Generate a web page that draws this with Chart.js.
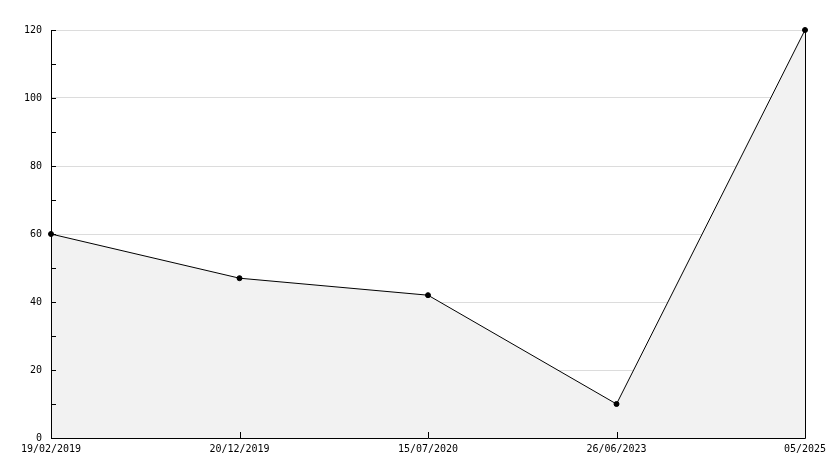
<!DOCTYPE html>
<html>
<head>
<meta charset="utf-8">
<script src="https://cdn.jsdelivr.net/npm/chart.js@4"></script>
<style>
    html, body { margin: 0; padding: 0; background: #ffffff; }
    #wrap { width: 834px; height: 468px; }
</style>
</head>
<body>
<div id="wrap"><canvas id="mainChart" width="834" height="468"></canvas></div>
<script>
const dateLabels = ['19/02/2019', '20/12/2019', '15/07/2020', '26/06/2023', '05/2025'];
const values = [60, 47, 42, 10, 120];
const yMin = 0;
const yMax = 120;

// short inward ticks + frame lines drawn on top of the fill
const frameTicks = {
    id: 'frameTicks',
    afterDatasetsDraw(chart) {
        const ctx = chart.ctx;
        const area = chart.chartArea;
        const xs = chart.scales.x;
        const ys = chart.scales.y;
        ctx.save();
        ctx.strokeStyle = '#000000';
        ctx.lineWidth = 1;
        ctx.beginPath();
        ys.ticks.forEach(t => {
            const y = Math.round(ys.getPixelForValue(t.value)) + 0.5;
            ctx.moveTo(area.left, y);
            ctx.lineTo(area.left + 5, y);
        });
        xs.ticks.forEach((t, i) => {
            const x = Math.round(xs.getPixelForTick(i)) + 0.5;
            ctx.moveTo(x, area.bottom);
            ctx.lineTo(x, area.bottom - 6);
        });
        const l = Math.round(area.left) + 0.5;
        const r = Math.round(area.right) + 0.5;
        const b = Math.round(area.bottom) + 0.5;
        const t = Math.round(area.top) + 0.5;
        ctx.moveTo(l, t);
        ctx.lineTo(l, b);
        ctx.lineTo(r, b);
        ctx.lineTo(r, t);
        ctx.stroke();
        ctx.restore();
    }
};

document.addEventListener('DOMContentLoaded', function () {
    const ctxMain = document.getElementById('mainChart').getContext('2d');

    const mainChart = new Chart(ctxMain, {
        type: 'line',
        data: {
            labels: dateLabels,
            datasets: [{
                data: values,
                borderColor: '#000000',
                backgroundColor: '#f2f2f2',
                borderWidth: 1,
                fill: 'origin',
                tension: 0,
                pointRadius: 2.5,
                pointHoverRadius: 2.5,
                pointBackgroundColor: '#000000',
                pointBorderColor: '#000000',
                pointBorderWidth: 1,
                clip: false
            }]
        },
        options: {
            responsive: false,
            animation: false,
            events: [],
            layout: {
                padding: { top: 30, right: 29, left: 0, bottom: 0 }
            },
            plugins: {
                legend: { display: false },
                tooltip: { enabled: false }
            },
            scales: {
                x: {
                    type: 'category',
                    offset: false,
                    afterFit: function (scale) { scale.height = 30; },
                    border: { display: false },
                    grid: { display: false, drawTicks: false },
                    ticks: {
                        color: '#000000',
                        autoSkip: false,
                        maxRotation: 0,
                        padding: 5,
                        font: { family: 'DejaVu Sans Mono', size: 10 }
                    }
                },
                y: {
                    min: yMin,
                    max: yMax,
                    afterFit: function (scale) { scale.width = 51; },
                    border: { display: false },
                    grid: {
                        drawTicks: false,
                        color: function (c) {
                            return (c.tick && c.tick.value % 20 === 0) ? '#dcdcdc' : 'rgba(0,0,0,0)';
                        }
                    },
                    ticks: {
                        stepSize: 10,
                        color: '#000000',
                        padding: 9,
                        font: { family: 'DejaVu Sans Mono', size: 10 },
                        callback: function (value) {
                            return value % 20 === 0 ? value : '';
                        }
                    }
                }
            }
        },
        plugins: [frameTicks]
    });
});
</script>
</body>
</html>
